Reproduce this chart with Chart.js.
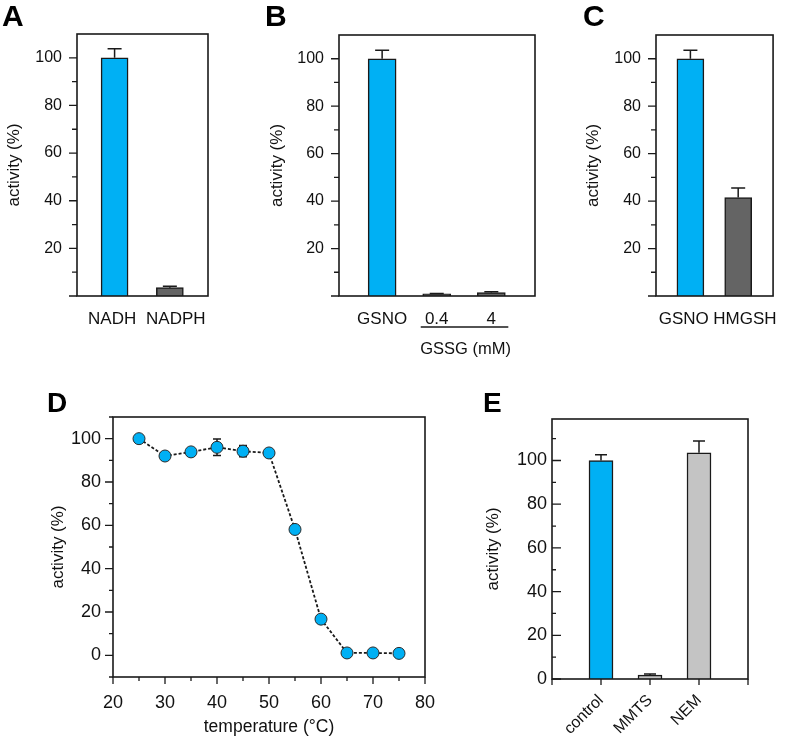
<!DOCTYPE html>
<html lang="en">
<head>
<meta charset="UTF-8" />
<title>Activity panels A-E</title>
<script src="https://cdn.jsdelivr.net/npm/chart.js"></script>
<style>
  body { margin: 0; background: #fff; }
  #fig { position: relative; width: 790px; height: 739px; overflow: hidden; }
  #fig canvas { position: absolute; }
  .tag { position: absolute; font: bold 30px "Liberation Sans", Arial, sans-serif; line-height: 30px; color: #000; }
  .tag.low { font-size: 28px; line-height: 28px; }
</style>
</head>
<body>
<div id="fig">
  <canvas id="panelA" width="235" height="350" style="left:0px;top:0px"></canvas>
  <canvas id="panelB" width="305" height="365" style="left:250px;top:0px"></canvas>
  <canvas id="panelC" width="230" height="350" style="left:560px;top:0px"></canvas>
  <canvas id="panelD" width="460" height="359" style="left:0px;top:380px"></canvas>
  <canvas id="panelE" width="320" height="359" style="left:470px;top:380px"></canvas>
  <div class="tag" style="left:2px;top:1px">A</div>
  <div class="tag" style="left:265px;top:1px">B</div>
  <div class="tag" style="left:583px;top:1px">C</div>
  <div class="tag low" style="left:47px;top:389px">D</div>
  <div class="tag low" style="left:483px;top:389px">E</div>
</div>

<script>
// --- data ---
const aLabels = ['NADH', 'NADPH'];
const aValues = [100, 3.5];
const aErrors = [3.8, 0.6];

const bLabels = ['GSNO', '0.4', '4'];
const bValues = [100, 0.9, 1.4];
const bErrors = [3.6, 0.2, 0.4];
const bGroupMembers = ['0.4', '4'];
const bGroupTitle = 'GSSG (mM)';

const cLabels = ['GSNO', 'HMGSH'];
const cValues = [100, 41.5];
const cErrors = [3.6, 4.0];

const dTemps = [25, 30, 35, 40, 45, 50, 55, 60, 65, 70, 75];
const dActivity = [100, 92, 93.9, 96, 94.2, 93.4, 58.1, 16.7, 1.1, 1.1, 0.9];
const dErrors = [1, 1, 1.2, 3.8, 2.6, 1, 1.5, 1.5, 0.5, 0.5, 0.5];

const eLabels = ['control', 'MMTS', 'NEM'];
const eValues = [100, 1.8, 103.5];
const eErrors = [2.6, 0.5, 5.4];

// tick values
const abcYTicks = [20, 40, 60, 80, 100];
const abcYMinor = [10, 30, 50, 70, 90];
const dYTicks = [0, 20, 40, 60, 80, 100];
const dYMinor = [-10, 10, 30, 50, 70, 90, 110];
const dXTicks = [20, 30, 40, 50, 60, 70, 80];
const dXMinor = [25, 35, 45, 55, 65, 75];
const eYTicks = [0, 20, 40, 60, 80, 100];
const eYMinor = [10, 30, 50, 70, 90, 110];
const eXTicks = [0, 1, 2, 3, 4];

// --- styles ---
const INK = '#1a1a1a';
const BLUE = '#00b0f4';
const DARK = '#646464';
const LIGHT = '#c4c4c4';
const FONT = '"Liberation Sans", Arial, Helvetica, sans-serif';

Chart.defaults.font.family = FONT;
Chart.defaults.color = '#111';
Chart.defaults.animation = false;
Chart.defaults.plugins.legend.display = false;
Chart.defaults.plugins.tooltip.enabled = false;

const noGrid = {display: false, drawTicks: false};

// box round the plot area + tick marks (negative length = inward)
function frame(marks) {
    return {
        id: 'frame',
        afterDatasetsDraw(chart) {
            const {ctx, chartArea: a} = chart;
            ctx.save();
            ctx.strokeStyle = INK;
            ctx.lineWidth = 1.6;
            ctx.strokeRect(a.left, a.top, a.right - a.left, a.bottom - a.top);
            ctx.lineWidth = 1.3;
            ctx.beginPath();
            (marks.y || []).forEach(([vals, len]) => vals.forEach(v => {
                const p = chart.scales.y.getPixelForValue(v);
                ctx.moveTo(a.left, p);
                ctx.lineTo(a.left - len, p);
            }));
            (marks.x || []).forEach(([vals, len]) => vals.forEach(v => {
                const p = chart.scales.x.getPixelForValue(v);
                ctx.moveTo(p, a.bottom);
                ctx.lineTo(p, a.bottom + len);
            }));
            ctx.stroke();
            ctx.restore();
        }
    };
}

// error bars; bars only get the upper half
function whiskers(errors, cap, both) {
    const draw = chart => {
        const {ctx} = chart;
        const ys = chart.scales.y;
        const pts = chart.data.datasets[0].data;
        ctx.save();
        ctx.strokeStyle = INK;
        ctx.lineWidth = 1.5;
        ctx.beginPath();
        chart.getDatasetMeta(0).data.forEach((el, i) => {
            const v = pts[i].y, e = errors[i];
            const hi = ys.getPixelForValue(v + e);
            const lo = ys.getPixelForValue(both ? v - e : v);
            ctx.moveTo(el.x, lo);
            ctx.lineTo(el.x, hi);
            ctx.moveTo(el.x - cap, hi);
            ctx.lineTo(el.x + cap, hi);
            if (both) {
                ctx.moveTo(el.x - cap, lo);
                ctx.lineTo(el.x + cap, lo);
            }
        });
        ctx.stroke();
        ctx.restore();
    };
    return both ? {id: 'whiskers', beforeDatasetsDraw: draw}
                : {id: 'whiskers', afterDatasetsDraw: draw};
}

function yAxis(cfg) {
    return {
        type: 'linear',
        min: cfg.min, max: cfg.max,
        afterBuildTicks: s => { s.ticks = cfg.ticks.map(v => ({value: v})); },
        afterFit: s => { s.width = cfg.width; },
        grid: noGrid,
        border: {display: false},
        ticks: {font: {size: cfg.size}, padding: cfg.pad, color: '#111'},
        title: {display: true, text: 'activity (%)', font: {size: 17}, padding: {top: cfg.titlePad, bottom: 0}, color: '#111'}
    };
}

function barPanel(id, cfg) {
    const nudge = cfg.nudge || cfg.labels.map(() => 0);
    return new Chart(document.getElementById(id), {
        type: 'bar',
        data: {
            datasets: [{
                data: cfg.values.map((v, i) => ({x: i + 1, y: v})),
                backgroundColor: cfg.colors,
                borderColor: INK,
                borderWidth: 1.5,
                barThickness: cfg.barW
            }]
        },
        options: {
            responsive: false,
            layout: {padding: {top: cfg.top, right: cfg.right, left: 0, bottom: 0}},
            scales: {
                x: {
                    type: 'linear',
                    offset: false,
                    min: cfg.xMin, max: cfg.xMax,
                    // labels sit under their bars, pushed apart a little where they crowd
                    afterBuildTicks: s => { s.ticks = cfg.labels.map((_, i) => ({value: i + 1 + nudge[i]})); },
                    afterFit: s => { s.height = cfg.xH; },
                    grid: noGrid,
                    border: {display: false},
                    ticks: {
                        callback: (v, i) => cfg.labels[i],
                        autoSkip: false, maxRotation: 0, minRotation: 0,
                        font: {size: 17}, padding: 13, color: '#111'
                    }
                },
                y: yAxis({min: 0, max: 110, ticks: abcYTicks, width: cfg.yW, size: 16, pad: 15, titlePad: cfg.titlePad})
            }
        },
        plugins: [
            frame({y: [[[0, ...abcYTicks], 8], [abcYMinor, 5]]}),
            whiskers(cfg.errors, 7, false)
        ].concat(cfg.extra || [])
    });
}

barPanel('panelA', {
    labels: aLabels, values: aValues, errors: aErrors, colors: [BLUE, DARK],
    xMin: 0.32, xMax: 2.69, barW: 27, nudge: [-0.045, 0.107],
    top: 34, right: 27, yW: 77, xH: 54, titlePad: 4
});

const gssgLabel = {
    id: 'gssgLabel',
    afterDraw(chart) {
        const {ctx, chartArea: a} = chart;
        const xs = chart.scales.x;
        const idx = bGroupMembers.map(m => bLabels.indexOf(m) + 1);
        const x0 = xs.getPixelForValue(Math.min(...idx)) - 16;
        const x1 = xs.getPixelForValue(Math.max(...idx)) + 17;
        const y = a.bottom + 31;
        ctx.save();
        ctx.strokeStyle = INK;
        ctx.lineWidth = 1.4;
        ctx.beginPath();
        ctx.moveTo(x0, y);
        ctx.lineTo(x1, y);
        ctx.stroke();
        ctx.fillStyle = '#111';
        ctx.font = '16.5px ' + FONT;
        ctx.textAlign = 'center';
        ctx.textBaseline = 'middle';
        ctx.fillText(bGroupTitle, (x0 + x1) / 2 + 1, y + 22);
        ctx.restore();
    }
};

barPanel('panelB', {
    labels: bLabels, values: bValues, errors: bErrors, colors: [BLUE, DARK, DARK],
    xMin: 0.21, xMax: 3.8, barW: 28,
    top: 35, right: 20, yW: 89, xH: 69, titlePad: 17,
    extra: [gssgLabel]
});

barPanel('panelC', {
    labels: cLabels, values: cValues, errors: cErrors, colors: [BLUE, DARK],
    xMin: 0.28, xMax: 2.73, barW: 27, nudge: [-0.14, 0.14],
    top: 35, right: 2, yW: 96, xH: 54, titlePad: 23
});

// D: temperature profile
new Chart(document.getElementById('panelD'), {
    type: 'line',
    data: {
        datasets: [{
            data: dTemps.map((t, i) => ({x: t, y: dActivity[i]})),
            borderColor: INK,
            borderWidth: 1.8,
            borderDash: [3, 2],
            pointRadius: 6,
            pointBackgroundColor: BLUE,
            pointBorderColor: '#2a2a2a',
            pointBorderWidth: 1
        }]
    },
    options: {
        responsive: false,
        layout: {padding: {top: 37, right: 35, left: 0, bottom: 0}},
        scales: {
            x: {
                type: 'linear', min: 20, max: 80,
                afterBuildTicks: s => { s.ticks = dXTicks.map(v => ({value: v})); },
                afterFit: s => { s.height = 62; },
                grid: noGrid,
                border: {display: false},
                ticks: {font: {size: 18}, padding: 15, color: '#111', maxRotation: 0},
                title: {display: true, text: 'temperature (°C)', font: {size: 17.5}, padding: {top: 0, bottom: 1}, color: '#111'}
            },
            y: yAxis({min: -10, max: 110, ticks: dYTicks, width: 113, size: 18, pad: 12, titlePad: 48})
        }
    },
    plugins: [
        whiskers(dErrors, 4, true),
        frame({y: [[dYTicks, 8], [dYMinor, 4]], x: [[dXTicks, 7], [dXMinor, 4]]})
    ]
});

// E: thiol reagents
new Chart(document.getElementById('panelE'), {
    type: 'bar',
    data: {
        datasets: [{
            data: eValues.map((v, i) => ({x: i + 1, y: v})),
            backgroundColor: [BLUE, LIGHT, LIGHT],
            borderColor: INK,
            borderWidth: 1.5,
            barThickness: 24
        }]
    },
    options: {
        responsive: false,
        layout: {padding: {top: 39, right: 42, left: 0, bottom: 0}},
        scales: {
            x: {
                type: 'linear', offset: false, min: 0, max: 4,
                afterBuildTicks: s => { s.ticks = eXTicks.map(v => ({value: v})); },
                afterFit: s => { s.height = 60; },
                grid: noGrid,
                border: {display: false},
                ticks: {
                    callback: v => eLabels[v - 1] || '',
                    autoSkip: false, maxRotation: 45, minRotation: 45,
                    font: {size: 16}, padding: 12, color: '#111'
                }
            },
            y: yAxis({min: 0, max: 119, ticks: eYTicks, width: 82, size: 18, pad: 5, titlePad: 13})
        }
    },
    plugins: [
        frame({y: [[eYTicks, -9], [eYMinor, -4]], x: [[eXTicks, 6]]}),
        whiskers(eErrors, 6, false)
    ]
});
</script>
</body>
</html>
